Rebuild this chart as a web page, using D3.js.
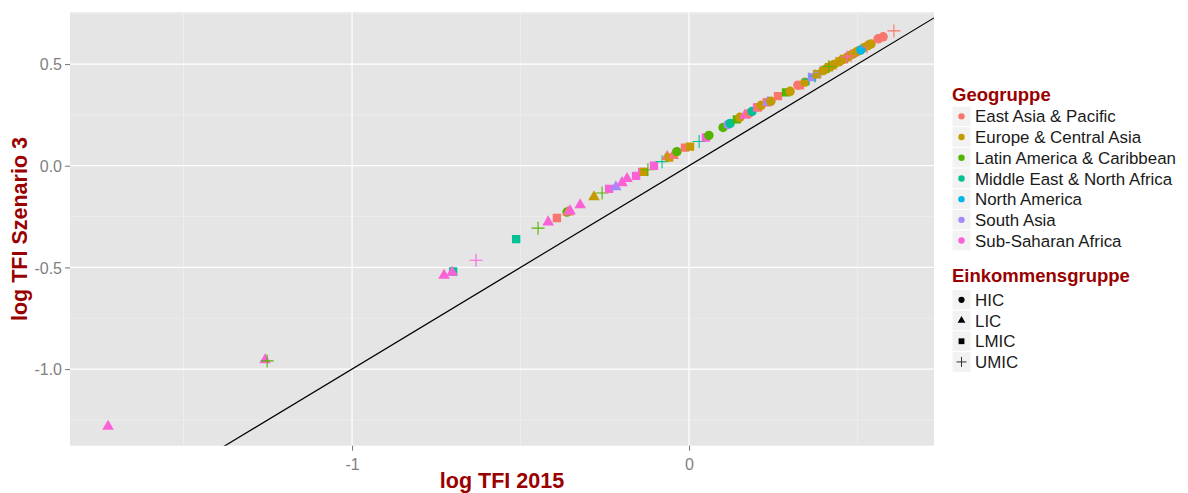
<!DOCTYPE html>
<html>
<head>
<meta charset="utf-8">
<script src="https://cdn.jsdelivr.net/npm/d3@7"></script>
<style>
  html, body { margin: 0; padding: 0; background: #fff; }
  svg { display: block; font-family: "Liberation Sans", Arial, Helvetica, sans-serif; }
</style>
</head>
<body>
<svg id="chart" width="1188" height="493"></svg>
<script>
// Region and income-group categories
const geoCodes = ["EAP", "ECA", "LAC", "MNA", "NAM", "SAS", "SSA"];
const geoLabels = ["East Asia & Pacific", "Europe & Central Asia", "Latin America & Caribbean",
  "Middle East & North Africa", "North America", "South Asia", "Sub-Saharan Africa"];
const geoColors = ["#F8766D", "#C49A00", "#53B400", "#00C094", "#00B6EB", "#A58AFF", "#FB61D7"];
const incomeGroups = ["HIC", "LIC", "LMIC", "UMIC"];

// Axis ticks
const xTicks = [-1, 0];
const yTicks = [-1.0, -0.5, 0.0, 0.5];

// One entry per country: log TFI 2015, log TFI scenario 3, region, income group
const tfi2015 = [
  -1.724, -1.258, -1.252, -0.727, -0.700, -0.703, -0.632, -0.513, -0.448, -0.418,
  -0.392, -0.362, -0.359, -0.353, -0.323, -0.282, -0.258, -0.237, -0.217, -0.199,
  -0.184, -0.157, -0.139, -0.134, -0.122, -0.104, -0.080, -0.065, -0.059, -0.047,
  -0.036, -0.012, 0.003, 0.030, 0.050, 0.059, 0.101, 0.116, 0.122, 0.142,
  0.151, 0.166, 0.178, 0.187, 0.202, 0.205, 0.214, 0.231, 0.234, 0.243,
  0.264, 0.288, 0.300, 0.323, 0.329, 0.344, 0.356, 0.365, 0.374, 0.380,
  0.389, 0.398, 0.407, 0.415, 0.421, 0.430, 0.436, 0.445, 0.454, 0.460,
  0.469, 0.478, 0.487, 0.496, 0.504, 0.519, 0.531, 0.415, 0.469, 0.481,
  0.510, 0.528, 0.540, 0.561, 0.576, 0.608
];
const tfiSzenario3 = [
  -1.282, -0.955, -0.960, -0.540, -0.520, -0.525, -0.465, -0.361, -0.307, -0.277,
  -0.257, -0.228, -0.228, -0.223, -0.193, -0.153, -0.134, -0.114, -0.104, -0.084,
  -0.064, -0.050, -0.030, -0.030, -0.020, 0.000, 0.020, 0.045, 0.040, 0.050,
  0.069, 0.089, 0.094, 0.119, 0.139, 0.149, 0.188, 0.203, 0.208, 0.228,
  0.238, 0.248, 0.257, 0.267, 0.287, 0.287, 0.297, 0.312, 0.312, 0.317,
  0.342, 0.361, 0.366, 0.396, 0.396, 0.411, 0.426, 0.436, 0.441, 0.450,
  0.460, 0.468, 0.476, 0.484, 0.490, 0.498, 0.504, 0.511, 0.520, 0.525,
  0.533, 0.542, 0.550, 0.558, 0.566, 0.580, 0.591, 0.488, 0.535, 0.540,
  0.569, 0.584, 0.599, 0.624, 0.634, 0.663
];
const geoGroup = [
  "SSA", "SSA", "LAC", "SSA", "MNA", "SSA", "SSA", "MNA", "LAC", "SSA",
  "EAP", "LAC", "EAP", "SSA", "SSA", "ECA", "LAC", "SSA", "SAS", "SSA",
  "SSA", "SSA", "SSA", "ECA", "LAC", "SSA", "MNA", "EAP", "ECA", "EAP",
  "LAC", "EAP", "ECA", "MNA", "SSA", "LAC", "LAC", "SAS", "MNA", "LAC",
  "ECA", "SSA", "EAP", "MNA", "SSA", "EAP", "ECA", "EAP", "SAS", "ECA",
  "EAP", "LAC", "ECA", "EAP", "EAP", "ECA", "MNA", "SAS", "MNA", "ECA",
  "SAS", "ECA", "ECA", "ECA", "ECA", "ECA", "ECA", "ECA", "ECA", "ECA",
  "ECA", "ECA", "ECA", "ECA", "ECA", "ECA", "ECA", "LAC", "SSA", "EAP",
  "NAM", "EAP", "ECA", "EAP", "EAP", "EAP"
];
const incomeGroup = [
  "LIC", "LIC", "UMIC", "LIC", "LMIC", "LIC", "UMIC", "LMIC", "UMIC", "LIC",
  "LMIC", "HIC", "LIC", "LIC", "LIC", "LIC", "UMIC", "LMIC", "LIC", "LIC",
  "LIC", "LMIC", "LMIC", "LMIC", "UMIC", "LMIC", "UMIC", "LIC", "LMIC", "LIC",
  "HIC", "LMIC", "LMIC", "UMIC", "LMIC", "HIC", "HIC", "HIC", "HIC", "LMIC",
  "HIC", "LIC", "HIC", "HIC", "LMIC", "LMIC", "HIC", "LMIC", "LIC", "HIC",
  "LMIC", "LMIC", "HIC", "HIC", "LMIC", "HIC", "UMIC", "LMIC", "UMIC", "LMIC",
  "UMIC", "HIC", "HIC", "LMIC", "HIC", "HIC", "UMIC", "HIC", "HIC", "LMIC",
  "HIC", "HIC", "HIC", "HIC", "HIC", "HIC", "HIC", "UMIC", "UMIC", "UMIC",
  "HIC", "UMIC", "HIC", "HIC", "HIC", "UMIC"
];

const points = tfi2015.map((v, i) => ({
  x: v, y: tfiSzenario3[i], geo: geoGroup[i], inc: incomeGroup[i]
}));

const svg = d3.select("#chart");
const panel = { left: 70, right: 934, top: 12.3, bottom: 445.7 };

const x = d3.scaleLinear().domain([-1.837, 0.727]).range([panel.left, panel.right]);
const y = d3.scaleLinear().domain([-1.377, 0.7545]).range([panel.bottom, panel.top]);
const color = d3.scaleOrdinal().domain(geoCodes).range(geoColors);

// Point glyphs per income group (circle, triangle, square, plus)
const symbolPath = {
  HIC: d3.symbol().type(d3.symbolCircle).size(70)(),
  LIC: d3.symbol().type(d3.symbolTriangle).size(58)(),
  LMIC: d3.symbol().type(d3.symbolSquare).size(70)(),
  UMIC: "M-6.5,0H6.5M0,-6.5V6.5"
};
const legendSymbol = {
  HIC: d3.symbol().type(d3.symbolCircle).size(30)(),
  LIC: d3.symbol().type(d3.symbolTriangle).size(26)(),
  LMIC: d3.symbol().type(d3.symbolSquare).size(34)(),
  UMIC: "M-5,0H5M0,-5V5"
};

// Tick labels use a plain hyphen for negatives
const hyphen = f => d => f(d).replace("\u2212", "-");

// Panel background
svg.append("rect")
  .attr("x", panel.left).attr("y", panel.top)
  .attr("width", panel.right - panel.left).attr("height", panel.bottom - panel.top)
  .attr("fill", "#E5E5E5");

const grid = svg.append("g");
const xMinor = [-1.5, -0.5, 0.5];
const yMinor = [-1.25, -0.75, -0.25, 0.25, 0.75];
grid.selectAll(".xmin").data(xMinor).join("line")
  .attr("x1", d => x(d)).attr("x2", d => x(d))
  .attr("y1", panel.top).attr("y2", panel.bottom)
  .attr("stroke", "#F2F2F2").attr("stroke-width", 0.6);
grid.selectAll(".ymin").data(yMinor).join("line")
  .attr("y1", d => y(d)).attr("y2", d => y(d))
  .attr("x1", panel.left).attr("x2", panel.right)
  .attr("stroke", "#F2F2F2").attr("stroke-width", 0.6);
grid.selectAll(".xmaj").data(xTicks).join("line")
  .attr("x1", d => x(d)).attr("x2", d => x(d))
  .attr("y1", panel.top).attr("y2", panel.bottom)
  .attr("stroke", "#FFFFFF").attr("stroke-width", 1.2);
grid.selectAll(".ymaj").data(yTicks).join("line")
  .attr("y1", d => y(d)).attr("y2", d => y(d))
  .attr("x1", panel.left).attr("x2", panel.right)
  .attr("stroke", "#FFFFFF").attr("stroke-width", 1.2);

// Clip to the panel
svg.append("defs").append("clipPath").attr("id", "clip")
  .append("rect")
  .attr("x", panel.left).attr("y", panel.top)
  .attr("width", panel.right - panel.left).attr("height", panel.bottom - panel.top);

const plot = svg.append("g").attr("clip-path", "url(#clip)");

// Scatter points
plot.selectAll("path.pt").data(points).join("path")
  .attr("class", "pt")
  .attr("transform", d => `translate(${x(d.x)},${y(d.y)})`)
  .attr("d", d => symbolPath[d.inc])
  .attr("fill", d => d.inc === "UMIC" ? "none" : color(d.geo))
  .attr("stroke", d => d.inc === "UMIC" ? color(d.geo) : "none")
  .attr("stroke-width", 1.1);

// Identity line y = x
const lineDomain = x.domain();
plot.append("line")
  .attr("x1", x(lineDomain[0])).attr("y1", y(lineDomain[0]))
  .attr("x2", x(lineDomain[1])).attr("y2", y(lineDomain[1]))
  .attr("stroke", "#000").attr("stroke-width", 1.2);

// Axes
const xAxis = d3.axisBottom(x).tickValues(xTicks).tickFormat(hyphen(d3.format("d")))
  .tickSize(5).tickPadding(4);
const yAxis = d3.axisLeft(y).tickValues(yTicks).tickFormat(hyphen(d3.format(".1f")))
  .tickSize(5).tickPadding(3);

const gx = svg.append("g").attr("transform", `translate(0,${panel.bottom})`).call(xAxis);
const gy = svg.append("g").attr("transform", `translate(${panel.left},0)`).call(yAxis);
[gx, gy].forEach(g => {
  g.select(".domain").remove();
  g.selectAll(".tick line").attr("stroke", "#7F7F7F").attr("stroke-width", 1.1);
  g.selectAll(".tick text").attr("fill", "#7F7F7F")
    .style("font-size", "16px")
    .style("font-family", "'Liberation Sans', Arial, sans-serif");
});
gx.selectAll(".tick text").attr("dy", "0.95em");
gy.selectAll(".tick text").attr("dy", "0.36em");

// Axis titles
const titleColor = "#990000";
svg.append("text")
  .attr("x", (panel.left + panel.right) / 2).attr("y", 488)
  .attr("text-anchor", "middle")
  .attr("fill", titleColor).style("font-weight", "bold").style("font-size", "21.5px")
  .text("log TFI 2015");
svg.append("text")
  .attr("transform", `translate(27,${(panel.top + panel.bottom) / 2}) rotate(-90)`)
  .attr("text-anchor", "middle")
  .attr("fill", titleColor).style("font-weight", "bold").style("font-size", "21.5px")
  .text("log TFI Szenario 3");

// Legends
const legend = svg.append("g");
const keyX = 952, keyW = 19, rowH = 20.7, textX = 975;

legend.append("text").attr("x", 952).attr("y", 100.5)
  .attr("fill", titleColor).style("font-weight", "bold").style("font-size", "18.5px")
  .text("Geogruppe");
const geoRows = legend.selectAll("g.geo").data(geoCodes).join("g")
  .attr("transform", (d, i) => `translate(0,${106 + i * rowH})`);
geoRows.append("rect").attr("x", keyX).attr("y", 0).attr("width", keyW).attr("height", rowH)
  .attr("fill", "#F2F2F2").attr("stroke", "#FFFFFF").attr("stroke-width", 1);
geoRows.append("circle").attr("cx", keyX + keyW / 2).attr("cy", rowH / 2).attr("r", 3.2)
  .attr("fill", d => color(d));
geoRows.append("text").attr("x", textX).attr("y", rowH / 2).attr("dy", "0.36em")
  .attr("fill", "#1A1A1A").style("font-size", "16.9px")
  .text((d, i) => geoLabels[i]);

legend.append("text").attr("x", 952).attr("y", 281.7)
  .attr("fill", titleColor).style("font-weight", "bold").style("font-size", "18.5px")
  .text("Einkommensgruppe");
const incRows = legend.selectAll("g.inc").data(incomeGroups).join("g")
  .attr("transform", (d, i) => `translate(0,${289.5 + i * rowH})`);
incRows.append("rect").attr("x", keyX).attr("y", 0).attr("width", keyW).attr("height", rowH)
  .attr("fill", "#F2F2F2").attr("stroke", "#FFFFFF").attr("stroke-width", 1);
incRows.append("path")
  .attr("transform", `translate(${keyX + keyW / 2},${rowH / 2})`)
  .attr("d", d => legendSymbol[d])
  .attr("fill", d => d === "UMIC" ? "none" : "#000")
  .attr("stroke", d => d === "UMIC" ? "#333" : "none")
  .attr("stroke-width", 1);
incRows.append("text").attr("x", textX).attr("y", rowH / 2).attr("dy", "0.36em")
  .attr("fill", "#1A1A1A").style("font-size", "16.9px")
  .text(d => d);
</script>
</body>
</html>
